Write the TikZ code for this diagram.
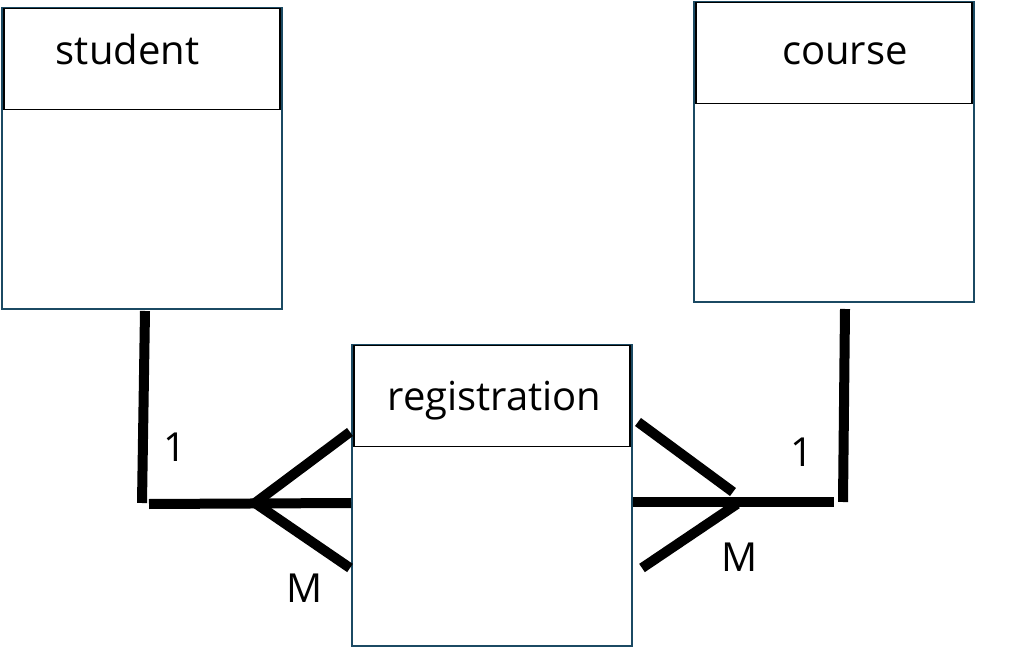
\documentclass[tikz,border=0pt]{standalone}
\usepackage{fontspec}
\setmainfont{Open Sans}
\usetikzlibrary{positioning,calc}
\definecolor{entblue}{HTML}{1B4A63}
\tikzset{font=\fontsize{30}{36}\selectfont}

\begin{document}
\begin{tikzpicture}[x=0.75pt,y=-0.75pt]
	\useasboundingbox (0,0) rectangle (1024,648);
	\begin{scope}
		\tikzstyle{every node}=[inner sep=1pt]
		\tikzstyle{ent}=[draw=entblue, line width=2.2pt, minimum width=210pt, minimum height=225.75pt, inner sep=0pt]
		\tikzstyle{head}=[draw=black, line width=0.8pt, minimum width=207pt, minimum height=75.5pt, inner sep=0pt, anchor=north]
		\tikzstyle{link}=[line width=7.5pt]

		\node[ent] (stu) at (142,158.5) {};
		\node[ent, minimum height=225pt] (crs) at (834,152) {};
		\node[ent] (reg) at (492,495.5) {};

		\node[head] (stuh) at ([yshift=-1pt]stu.north) {};
		\node[head] (crsh) at ([yshift=-1pt]crs.north) {};
		\node[head] (regh) at ([yshift=-1pt]reg.north) {};

		\node[anchor=base] (stut) at (127.5,65) {student};
		\node[anchor=base] (crst) at (845,65) {course};
		\node[anchor=base] (regt) at (494.5,410) {registration};

		\coordinate (s1) at (145,311);
		\coordinate (s2) at (142,503);
		\coordinate (s3) at (149,504);
		\coordinate (sf) at (255,503);
		\coordinate (rw) at (351,503);
		\coordinate (sa) at (350,432);
		\coordinate (sb) at (350,568);

		\coordinate (c1) at (845,309);
		\coordinate (c2) at (843,502);
		\coordinate (c3) at (834,502);
		\coordinate (re) at (633,502);
		\coordinate (ca) at (638,422);
		\coordinate (cfa) at (733,492);
		\coordinate (cb) at (642,568);
		\coordinate (cfb) at (737,504);

		\draw[link] (s1) to (s2);
		\draw[link] (s3) to (rw);
		\draw[link] (sa) -- (sf) -- (sb);

		\draw[link] (c1) to (c2);
		\draw[link] (re) to (c3);
		\draw[link] (ca) to (cfa);
		\draw[link] (cb) to (cfb);

		\node (one1) at (175,447) {1};
		\node (m1) at (305,588) {M};
		\node (one2) at (802,452) {1};
		\node (m2) at (740,557) {M};
	\end{scope}
\end{tikzpicture}
\end{document}
